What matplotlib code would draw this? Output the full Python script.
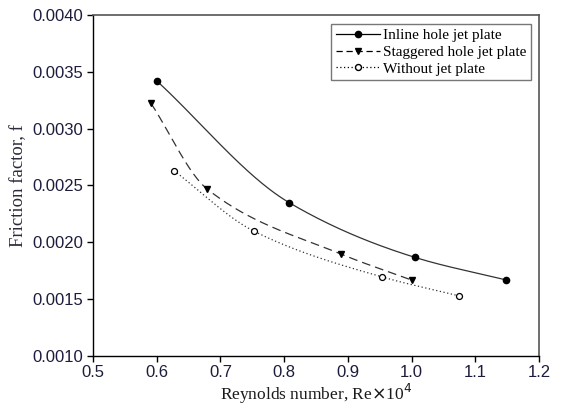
import numpy as np
import matplotlib.pyplot as plt

re_inline = [0.600, 0.808, 1.005, 1.148]
f_inline = [0.00342, 0.002347, 0.001866, 0.001667]
re_stag = [0.591, 0.679, 0.890, 1.001]
f_stag = [0.003222, 0.002468, 0.001893, 0.001664]
re_without = [0.627, 0.753, 0.954, 1.075]
f_without = [0.002629, 0.002095, 0.001693, 0.001526]


def smooth(x, y, n=200):
    # monotone cubic (Fritsch-Carlson) through the points
    x = np.asarray(x, float)
    y = np.asarray(y, float)
    h = np.diff(x)
    d = np.diff(y) / h
    m = np.zeros(len(x))
    m[0], m[-1] = d[0], d[-1]
    for i in range(1, len(x) - 1):
        if d[i - 1] * d[i] > 0:
            w1 = 2 * h[i] + h[i - 1]
            w2 = h[i] + 2 * h[i - 1]
            m[i] = (w1 + w2) / (w1 / d[i - 1] + w2 / d[i])
    xs = np.linspace(x[0], x[-1], n)
    idx = np.clip(np.searchsorted(x, xs) - 1, 0, len(x) - 2)
    t = (xs - x[idx]) / h[idx]
    h00 = 2 * t**3 - 3 * t**2 + 1
    h10 = t**3 - 2 * t**2 + t
    h01 = -2 * t**3 + 3 * t**2
    h11 = t**3 - t**2
    ys = h00 * y[idx] + h10 * h[idx] * m[idx] + h01 * y[idx + 1] + h11 * h[idx] * m[idx + 1]
    return xs, ys


fig = plt.figure(figsize=(5.61, 4.12), dpi=100)
ax = fig.add_axes([0.1658, 0.1367, 0.795, 0.827])

line_col = '#333333'
xs, ys = smooth(re_inline, f_inline)
ax.plot(xs, ys, '-', color=line_col, lw=0.9)
ax.plot(re_inline, f_inline, 'o', color='black', ms=4.5)
xs, ys = smooth(re_stag, f_stag)
ax.plot(xs, ys, color=line_col, lw=0.9, dashes=(7, 4))
ax.plot(re_stag, f_stag, 'v', color='black', ms=5)
xs, ys = smooth(re_without, f_without)
ax.plot(xs, ys, color=line_col, lw=0.9, dashes=(1, 2))
ax.plot(re_without, f_without, 'o', mfc='white', mec='black', ms=4.3, mew=0.9)

# legend handles
h1, = ax.plot([], [], '-', color='black', lw=0.9, marker='o', ms=4.5)
h2, = ax.plot([], [], color='black', lw=0.9, dashes=(5, 3), marker='v', ms=5)
h3, = ax.plot([], [], color='black', lw=0.9, dashes=(1, 2), marker='o',
              mfc='white', mec='black', ms=4.3)
leg = ax.legend([h1, h2, h3],
                ['Inline hole jet plate', 'Staggered hole jet plate', 'Without jet plate'],
                loc='upper right', bbox_to_anchor=(0.993, 0.987), fancybox=False,
                prop={'family': 'Liberation Serif', 'size': 11},
                handlelength=2.9, handletextpad=0.2, borderpad=0.3,
                labelspacing=0.2, borderaxespad=0.3)
leg.get_frame().set_edgecolor('#555555')
leg.get_frame().set_linewidth(1.0)

ax.set_xlim(0.5, 1.2)
ax.set_ylim(0.0010, 0.0040)
ax.set_xticks(np.arange(0.5, 1.21, 0.1))
ax.set_yticks(np.arange(0.0010, 0.00401, 0.0005))
ax.set_xticklabels(['0.5', '0.6', '0.7', '0.8', '0.9', '1.0', '1.1', '1.2'])
ax.set_yticklabels(['0.0010', '0.0015', '0.0020', '0.0025', '0.0030', '0.0035', '0.0040'])
tick_col = '#1c1c3c'
for lab in ax.get_xticklabels() + ax.get_yticklabels():
    lab.set_family('Liberation Sans')
    lab.set_fontsize(12)
    lab.set_color(tick_col)
ax.tick_params(direction='out', length=4, width=1, color='black', pad=3)

for s in ['top', 'right']:
    ax.spines[s].set_color('#555555')
    ax.spines[s].set_linewidth(1.2)
for s in ['left', 'bottom']:
    ax.spines[s].set_color('black')
    ax.spines[s].set_linewidth(1.0)

ax.set_xlabel(r'Reynolds number, Re$\times$10$^4$', family='Liberation Serif',
              fontsize=12.5, color='#1a1a1a', labelpad=1)
ax.set_ylabel('Friction factor, f', family='Liberation Serif', fontsize=13.5,
              color='#2a2a3a', labelpad=4)

fig.savefig('out.png', dpi=100)
